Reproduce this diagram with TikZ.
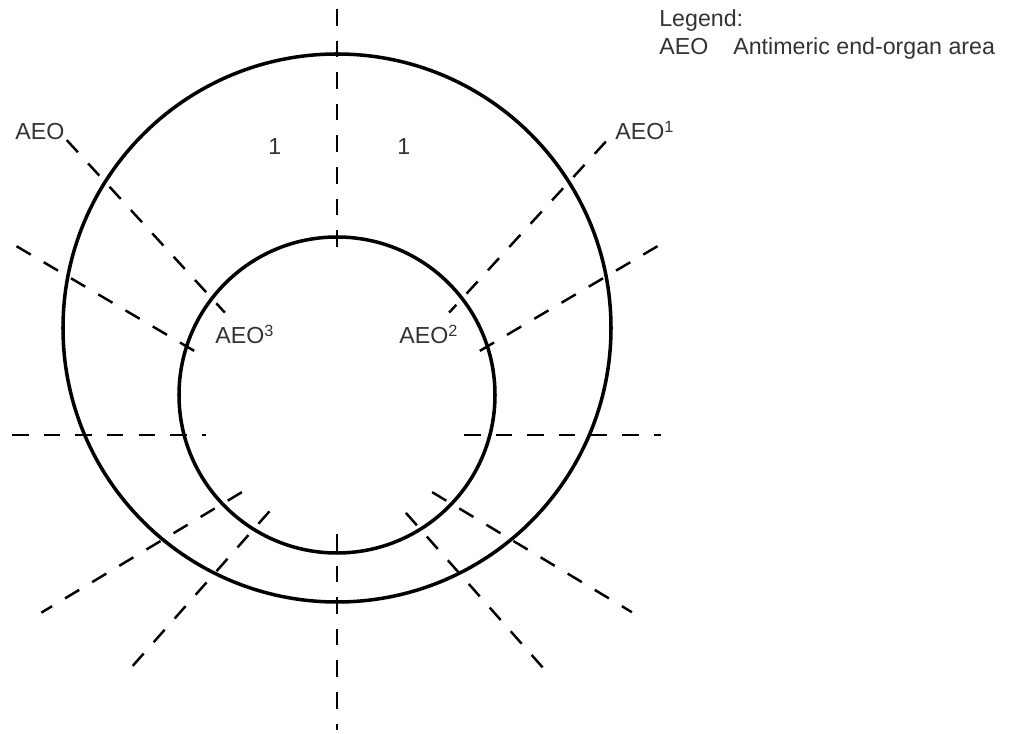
\documentclass[tikz,border=0pt]{standalone}
\usepackage{fontspec}
\setmainfont{Liberation Sans}
\definecolor{Linecol}{HTML}{000000}
\definecolor{Textcol}{HTML}{333333}
\usetikzlibrary{calc, positioning}
\tikzset{
    ring/.style={Linecol, line width=2pt},
    axisline/.style={Linecol, line width=1.4pt, dash pattern=on 9.4pt off 8.6pt},
    lbl/.style={Textcol, inner sep=0pt, anchor=base west, font=\fontsize{13.2}{16}\selectfont}
}

\begin{document}
\begin{tikzpicture}[x=0.02cm, y=0.02cm]
    \useasboundingbox (0,0) rectangle (1009,734);

    % Coordinates
    \coordinate (O) at (337, 299);
    \coordinate (Couter) at (337, 406);
    \coordinate (Cinner) at (337, 339);

    % Rings
    \draw[ring] (Couter) circle (274);
    \draw[ring] (Cinner) circle (158);

    % Dashed division lines (angle / start radius / end radius)
    \foreach \a/\rs/\re [count=\i] in {90/426/187, 270/99/295, 180/325/131, 0/127/324,
        132.5/400/166, 47.5/398/166, 149.5/372/165, 30.5/372/164,
        211/111/345, 329/111/344, 228.5/102/310, 311.5/104/312}{
        \coordinate (s\i) at ($(O)+(\a:\rs)$);
        \coordinate (e\i) at ($(O)+(\a:\re)$);
        \draw[axisline] (s\i) -- (e\i);
    }

    % Labels
    \node[lbl] (aeo) at (15, 594) {AEO};
    \node[lbl] (aeoA) at (615, 594) {AEO\textsuperscript{1}};
    \node[lbl] (aeoB) at (399, 390) {AEO\textsuperscript{2}};
    \node[lbl] (aeoC) at (215, 390) {AEO\textsuperscript{3}};
    \node[lbl] (oneL) at (268, 579) {1};
    \node[lbl] (oneR) at (397, 579) {1};

    % Legend
    \node[lbl] (legend) at (659, 707) {Legend:};
    \node[lbl] (legkey) at (659, 679) {AEO};
    \node[lbl] (legtext) at (733, 679) {Antimeric end-organ area};
\end{tikzpicture}
\end{document}
